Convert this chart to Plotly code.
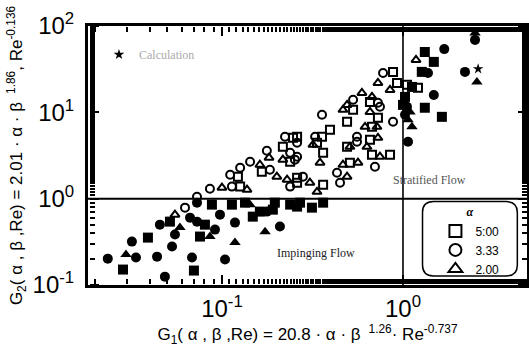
import plotly.graph_objects as go

# ---------------- data ----------------
open_sq_x = [0.126, 0.1225, 0.166, 0.247, 0.217, 0.238, 0.260, 0.881, 0.927, 0.657, 0.530, 0.727, 0.491,
             0.674, 0.260, 0.357, 0.395, 0.657, 0.335, 0.362, 0.491, 0.509, 0.674, 0.848, 0.362, 0.260,
             1.052, 1.21]
open_sq_y = [1.38, 1.80, 2.05, 5.07, 3.99, 2.68, 1.75, 29.4, 21.9, 13.2, 10.7, 8.64, 7.77,
             6.80, 5.21, 5.21, 6.28, 4.81, 4.44, 3.40, 3.99, 2.61, 3.23, 3.23, 1.45, 1.53,
             20.8, 19.2]

open_ci_x = [0.0728, 0.0858, 0.1135, 0.111, 0.126, 0.143, 0.177, 0.184, 0.223, 0.238, 0.260, 0.238,
             0.776, 0.530, 0.727, 0.746, 0.357, 0.881, 0.327, 0.557, 0.260, 0.557, 0.253, 0.432,
             0.449, 0.700, 0.280, 0.0625]
open_ci_y = [1.05, 1.30, 1.38, 1.89, 2.28, 2.68, 3.59, 2.16, 5.21, 3.40, 3.06, 1.38,
             28.6, 14.0, 12.9, 11.6, 9.36, 7.77, 5.21, 5.21, 4.44, 4.56, 2.83, 2.00,
             1.53, 2.34, 1.80, 0.787]

open_tr_x = [0.100, 0.1375, 0.162, 0.182, 0.201, 0.217, 0.229, 0.727, 0.848, 0.674, 0.593, 0.491,
             0.466, 0.657, 0.617, 0.718, 0.727, 0.509, 0.318, 0.632, 0.348, 0.466, 0.564, 0.491,
             0.746, 0.306, 0.335, 0.055, 1.18]
open_tr_y = [1.34, 1.27, 2.47, 2.98, 1.80, 2.83, 1.66, 21.9, 18.2, 15.1, 16.8, 12.2,
             10.7, 10.1, 6.80, 6.80, 5.07, 3.99, 4.21, 3.99, 2.61, 2.47, 2.61, 1.80,
             3.06, 1.53, 1.20, 0.653, 40.5]

fill_sq_x = [0.0284, 0.039, 0.070, 0.0756, 0.088, 0.1135, 0.134, 0.148, 0.0516, 0.0805, 0.162, 0.191,
             0.196, 0.238, 0.270, 0.260, 0.314, 0.362, 1.32, 1.48, 1.27, 1.32, 1.64, 1.026, 1.121, 1.0]
fill_sq_y = [0.151, 0.354, 0.147, 0.364, 0.853, 0.853, 0.899, 0.619, 0.542, 0.500, 0.708, 0.746,
             0.899, 0.853, 0.899, 0.809, 0.787, 0.899, 50.0, 38.4, 29.4, 11.3, 8.87, 15.1, 19.7, 12.2]

fill_ci_x = [0.0234, 0.0335, 0.0318, 0.0438, 0.053, 0.0484, 0.0683, 0.104, 0.0454, 0.0666, 0.0728,
             0.0975, 0.177, 0.0728, 0.118, 0.209, 0.0915, 0.055, 1.69, 1.374, 2.20, 1.48, 1.066,
             1.052, 2.50, 1.026]
fill_ci_y = [0.202, 0.208, 0.318, 0.213, 0.279, 0.125, 0.208, 0.197, 0.500, 0.603, 0.899,
             0.653, 0.708, 0.542, 0.528, 0.475, 0.438, 0.384, 54.0, 28.6, 29.4, 15.9, 4.56,
             11.6, 69.0, 9.36]

fill_tr_x = [0.0295, 0.118, 0.0858, 0.0586, 0.173, 0.143, 2.50, 2.56, 1.066, 1.121, 1.093]
fill_tr_y = [0.225, 0.310, 0.364, 0.462, 0.415, 0.853, 83.0, 22.5, 8.19, 6.80, 10.1]

calc_x = [2.60]
calc_y = [31.8]

legend_labels = ["5:00", "3.33", "2.00"]
x_tick_vals = [0.1, 1]
x_tick_text = ["10<sup>-1</sup>", "10<sup>0</sup>"]
y_tick_vals = [0.1, 1, 10, 100]
y_tick_text = ["10<sup>-1</sup>", "10<sup>0</sup>", "10<sup>1</sup>", "10<sup>2</sup>"]
G1_CRIT = 1.0
G2_CRIT = 1.0
X_RANGE_LOG = [-1.74, 0.685]
Y_RANGE_LOG = [-1, 2]

fig = go.Figure()
ms = 8
lw = 2.0

def open_trace(x, y, sym, name):
    return go.Scatter(x=x, y=y, mode="markers", name=name, legend="legend",
                      marker=dict(symbol=sym, size=ms, color="black", line=dict(width=lw, color="black")))

def fill_trace(x, y, sym):
    return go.Scatter(x=x, y=y, mode="markers", showlegend=False,
                      marker=dict(symbol=sym, size=ms + 2, color="black", line=dict(width=0)))

fig.add_trace(fill_trace(fill_sq_x, fill_sq_y, "square"))
fig.add_trace(fill_trace(fill_ci_x, fill_ci_y, "circle"))
fig.add_trace(fill_trace(fill_tr_x, fill_tr_y, "triangle-up"))
fig.add_trace(open_trace(open_sq_x, open_sq_y, "square-open", legend_labels[0]))
fig.add_trace(open_trace(open_ci_x, open_ci_y, "circle-open", legend_labels[1]))
fig.add_trace(open_trace(open_tr_x, open_tr_y, "triangle-up-open", legend_labels[2]))
fig.add_trace(go.Scatter(x=calc_x, y=calc_y, mode="markers", name="Calculation", legend="legend2",
                         marker=dict(symbol="star", size=8, color="black")))
# empty traces so the tick-only overlay axes are drawn
fig.add_trace(go.Scatter(x=[], y=[], xaxis="x2", yaxis="y2", showlegend=False, hoverinfo="skip"))
fig.add_trace(go.Scatter(x=[], y=[], xaxis="x3", yaxis="y3", showlegend=False, hoverinfo="skip"))

fig.add_hline(y=G2_CRIT, line=dict(color="black", width=2))
fig.add_vline(x=G1_CRIT, line=dict(color="black", width=1.6))

label_font = dict(family="Liberation Sans, Arial", size=24, color="black")
tick_style = dict(ticks="outside", ticklen=9, tickwidth=2, tickcolor="black",
                  minor=dict(ticks="outside", ticklen=5, tickwidth=1.5, tickcolor="black", showgrid=False))

main_common = dict(type="log", showgrid=False, zeroline=False, automargin=False,
                   showline=True, linecolor="black", linewidth=3, mirror=True, ticks="",
                   tickfont=label_font)
overlay_common = dict(type="log", showgrid=False, zeroline=False, automargin=False,
                      showline=False, showticklabels=False, anchor="free", **tick_style)

fig.update_layout(
    xaxis=dict(**main_common, range=X_RANGE_LOG, tickvals=x_tick_vals, ticktext=x_tick_text,
               title=dict(text="G<sub>1</sub>( α , β ,Re) = 20.8 · α · β <sup> 1.26</sup>· Re<sup>-0.737</sup>",
                          font=dict(family="Liberation Sans, Arial", size=17, color="black"), standoff=4)),
    yaxis=dict(**main_common, range=Y_RANGE_LOG, tickvals=y_tick_vals, ticktext=y_tick_text,
               ticklabelstandoff=6,
               title=dict(text="G<sub>2</sub>( α , β ,Re) = 2.01 · α · β <sup> 1.86</sup>, Re<sup>-0.136</sup>",
                          font=dict(family="Liberation Sans, Arial", size=17, color="black"), standoff=6)),
    # inward-pointing ticks: outside ticks of axes placed on the opposite edge
    xaxis2=dict(**overlay_common, overlaying="x", side="top", position=0.004, range=X_RANGE_LOG,
                tickvals=x_tick_vals),
    xaxis3=dict(**overlay_common, overlaying="x", side="bottom", position=1, range=X_RANGE_LOG,
                tickvals=x_tick_vals),
    yaxis2=dict(**overlay_common, overlaying="y", side="right", position=0.003, range=Y_RANGE_LOG,
                tickvals=y_tick_vals),
    yaxis3=dict(**overlay_common, overlaying="y", side="left", position=1, range=Y_RANGE_LOG,
                tickvals=y_tick_vals),
)

x0, x1, y0, y1 = 0.762, 0.978, 0.035, 0.322
rx, ry = 0.025, 0.042
path = (f"M {x0+rx},{y0} L {x1-rx},{y0} Q {x1},{y0} {x1},{y0+ry} L {x1},{y1-ry} Q {x1},{y1} {x1-rx},{y1} "
        f"L {x0+rx},{y1} Q {x0},{y1} {x0},{y1-ry} L {x0},{y0+ry} Q {x0},{y0} {x0+rx},{y0} Z")
fig.add_shape(type="path", path=path, xref="paper", yref="paper", line=dict(color="black", width=1.5))

fig.add_annotation(text="Stratified Flow", xref="paper", yref="paper", x=0.866, y=0.405,
                   showarrow=False, font=dict(family="Liberation Serif, Times New Roman", size=12, color="#555"))
fig.add_annotation(text="Impinging Flow", xref="paper", yref="paper", x=0.52, y=0.09,
                   showarrow=False, font=dict(family="Liberation Serif, Times New Roman", size=12, color="#222"))

fig.update_layout(
    template="none",
    width=529, height=347,
    margin=dict(l=88, r=2, t=26, b=62),
    paper_bgcolor="white", plot_bgcolor="white",
    legend=dict(x=0.87, y=0.325, xanchor="center", yanchor="top", bgcolor="rgba(0,0,0,0)",
                borderwidth=0, font=dict(family="Liberation Sans, Arial", size=12, color="black"),
                title=dict(text="<b><i>α</i></b>", side="top center",
                           font=dict(family="Liberation Serif, Times New Roman", size=12)),
                itemsizing="constant", tracegroupgap=0),
    legend2=dict(x=0.025, y=0.89, xanchor="left", yanchor="middle", bgcolor="rgba(0,0,0,0)",
                 font=dict(family="Liberation Serif, Times New Roman", size=12, color="#aaa")),
    showlegend=True,
)

fig.write_html("out.html", config={"displayModeBar": False},
               post_script="document.body.style.margin='0';document.body.style.padding='0';")
